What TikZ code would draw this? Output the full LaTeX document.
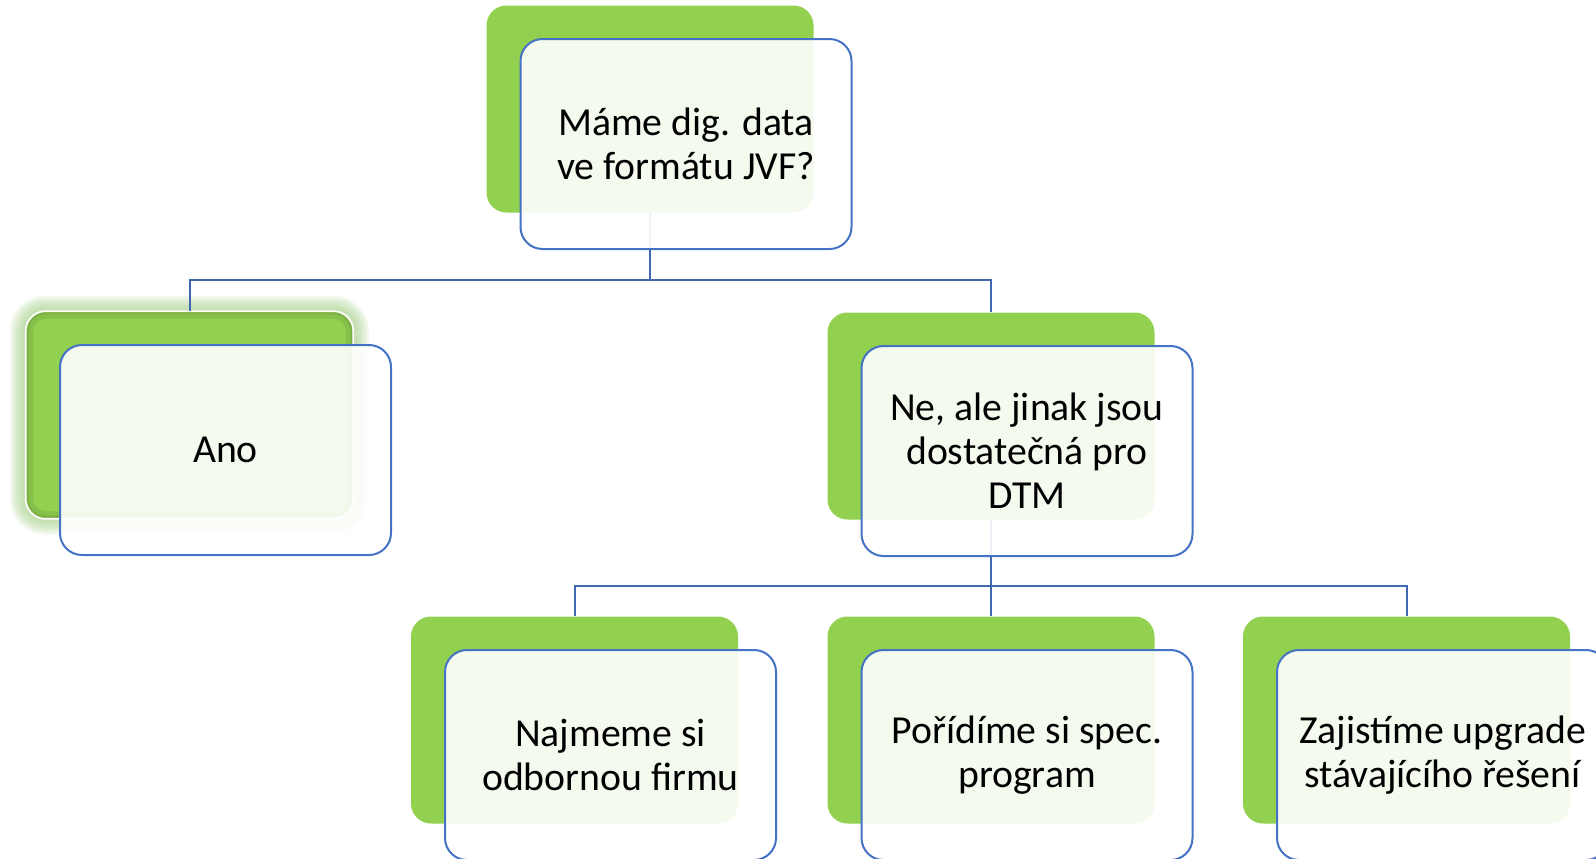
\documentclass[tikz,border=0pt]{standalone}
\usepackage{fontspec}
\setmainfont{Carlito}
\usepackage{xcolor}
\usepackage{tikz}
\usetikzlibrary{calc}
\definecolor{leaf}{HTML}{92D050}
\definecolor{rim}{HTML}{4472C4}
\definecolor{wire}{HTML}{4068B0}
\definecolor{halo}{HTML}{A9D18E}
\tikzset{
  gbox/.style={rectangle, rounded corners=0.4cm, fill=leaf, inner sep=0pt,
               minimum width=6.54cm, minimum height=4.14cm},
  tbox/.style={rectangle, rounded corners=0.44cm, draw=rim, line width=0.04cm,
               fill=white, fill opacity=0.9, text opacity=1, align=center,
               minimum width=6.62cm, minimum height=4.2cm,
               font=\fontsize{22.6}{25}\selectfont},
  link/.style={draw=wire, line width=0.04cm},
  glow/.style={draw=halo, draw opacity=0.14, rounded corners=0.4cm},
}

\begin{document}
\begin{tikzpicture}
\useasboundingbox (0,0) rectangle (31.92,-17.16);
\clip (0,0) rectangle (31.92,-17.16);
% soft halo behind the selected box
\coordinate (a) at (3.79,-8.30);
\foreach \i in {1,...,8}
  \draw[glow, line width=\i*0.08cm] ($(a)+(-3.27,-2.07)$) rectangle ($(a)+(3.27,2.07)$);
\node[gbox] (g0) at (13.0,-2.18) {};
\node[gbox] (g1) at (a) {};
\node[gbox] (g2) at (19.82,-8.32) {};
\node[gbox] (g3) at (11.49,-14.40) {};
\node[gbox] (g4) at (19.82,-14.40) {};
\node[gbox] (g5) at (28.13,-14.40) {};
\begin{scope}
  \clip[rounded corners=0.4cm] (g1.south west) rectangle (g1.north east);
  \draw[black, draw opacity=0.08, line width=0.3cm, rounded corners=0.4cm]
    (g1.south west) rectangle (g1.north east);
  \draw[black, draw opacity=0.08, line width=0.12cm, rounded corners=0.4cm]
    (g1.south west) rectangle (g1.north east);
\end{scope}
\draw[white, line width=0.035cm, rounded corners=0.4cm] (g1.south west) rectangle (g1.north east);
\coordinate (j0) at (13.0,-5.6);
\coordinate (j1) at (19.82,-11.72);
\draw[link] (g0.south) -- (j0) -| (g1.north);
\draw[link] (j0) -| (g2.north);
\draw[link] (g2.south) -- (j1) -| (g3.north);
\draw[link] (j1) -- (g4.north);
\draw[link] (j1) -| (g5.north);
\node[tbox] (t0) at ($(g0)+(0.72,-0.7)$) {Máme dig. data\\ve formátu JVF?};
\node[tbox] (t1) at ($(g1)+(0.72,-0.7)$) {Ano};
\node[tbox] (t2) at ($(g2)+(0.72,-0.7)$) {Ne, ale jinak jsou\\dostatečná pro\\DTM};
\node[tbox] (t3) at ($(g3)+(0.72,-0.7)$) {Najmeme si\\odbornou firmu};
\node[tbox] (t4) at ($(g4)+(0.72,-0.7)$) {Pořídíme si spec.\\program};
\node[tbox] (t5) at ($(g5)+(0.72,-0.7)$) {Zajistíme upgrade\\stávajícího řešení};
\end{tikzpicture}
\end{document}
